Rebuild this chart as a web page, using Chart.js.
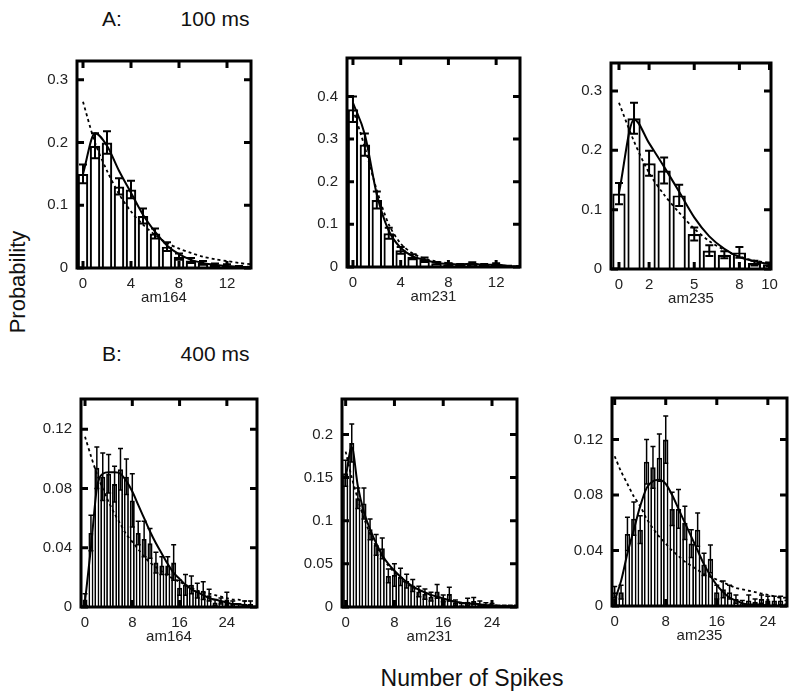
<!DOCTYPE html>
<html>
<head>
<meta charset="utf-8">
<script src="https://cdn.jsdelivr.net/npm/chart.js@4.4.1/dist/chart.umd.min.js"></script>
<style>
  body { margin: 0; background: #fff; width: 793px; height: 697px; position: relative; overflow: hidden;
         font-family: "Liberation Sans", Arial, sans-serif; color: #111; }
  canvas { position: absolute; }
  .lbl { position: absolute; white-space: nowrap; transform: translate(-50%, -50%); }
</style>
</head>
<body>
<div class="lbl" style="left:112px;top:19px;font-size:21px">A:</div>
<div class="lbl" style="left:215px;top:19px;font-size:21px">100 ms</div>
<div class="lbl" style="left:112px;top:354px;font-size:21px">B:</div>
<div class="lbl" style="left:215px;top:354px;font-size:21px">400 ms</div>
<div class="lbl" style="left:18px;top:282px;font-size:22px;transform:translate(-50%,-50%) rotate(-90deg)">Probability</div>
<div class="lbl" style="left:472px;top:678px;font-size:23px">Number of Spikes</div>

<canvas id="pA1"></canvas>
<canvas id="pA2"></canvas>
<canvas id="pA3"></canvas>
<canvas id="pB1"></canvas>
<canvas id="pB2"></canvas>
<canvas id="pB3"></canvas>

<script>
// ---- data: 100 ms window ----
const am164Bins100 = [0, 1, 2, 3, 4, 5, 6, 7, 8, 9, 10, 11, 12, 13, 14];
const am164Prob100 = [0.150, 0.195, 0.200, 0.130, 0.125, 0.083, 0.055, 0.034, 0.018, 0.012, 0.008, 0.005, 0.004, 0.002, 0.001];
const am164Err100  = [0.015, 0.020, 0.018, 0.013, 0.014, 0.012, 0.008, 0.007, 0.005, 0.004, 0.003, 0.002, 0.002, 0.001, 0.001];
const am164Fit100  = [0.150, 0.215, 0.195, 0.155, 0.120, 0.085, 0.058, 0.036, 0.022, 0.013, 0.008, 0.005, 0.003, 0.002, 0.001];
const am164Exp100  = [0.265, 0.200, 0.155, 0.118, 0.090, 0.069, 0.053, 0.040, 0.031, 0.024, 0.018, 0.014, 0.011, 0.008, 0.006];

const am231Bins100 = [0, 1, 2, 3, 4, 5, 6, 7, 8, 9, 10, 11, 12, 13, 14];
const am231Prob100 = [0.370, 0.287, 0.157, 0.079, 0.039, 0.024, 0.017, 0.009, 0.006, 0.005, 0.008, 0.005, 0.006, 0.002, 0.001];
const am231Err100  = [0.030, 0.026, 0.020, 0.013, 0.008, 0.006, 0.005, 0.003, 0.003, 0.002, 0.003, 0.002, 0.003, 0.001, 0.001];
const am231Fit100  = [0.385, 0.310, 0.170, 0.085, 0.045, 0.025, 0.017, 0.010, 0.007, 0.006, 0.008, 0.005, 0.006, 0.002, 0.001];
const am231Exp100  = [0.370, 0.280, 0.180, 0.100, 0.055, 0.032, 0.020, 0.013, 0.009, 0.006, 0.004, 0.003, 0.002, 0.001, 0.001];

const am235Bins100 = [0, 1, 2, 3, 4, 5, 6, 7, 8, 9, 10];
const am235Prob100 = [0.127, 0.254, 0.178, 0.166, 0.124, 0.059, 0.031, 0.024, 0.028, 0.010, 0.008];
const am235Err100  = [0.018, 0.026, 0.021, 0.022, 0.018, 0.011, 0.009, 0.006, 0.009, 0.004, 0.003];
const am235Fit100  = [0.128, 0.252, 0.212, 0.172, 0.130, 0.087, 0.055, 0.034, 0.020, 0.013, 0.008];
const am235Exp100  = [0.280, 0.215, 0.162, 0.125, 0.095, 0.068, 0.047, 0.032, 0.021, 0.014, 0.010];

// ---- data: 400 ms window ----
const am164Bins400 = [0, 1, 2, 3, 4, 5, 6, 7, 8, 9, 10, 11, 12, 13, 14, 15, 16, 17, 18, 19, 20, 21, 22, 23, 24, 25, 26, 27, 28];
const am164Prob400 = [0.005, 0.050, 0.094, 0.088, 0.090, 0.083, 0.093, 0.088, 0.072, 0.050, 0.046, 0.043, 0.030, 0.028, 0.028,
                      0.030, 0.013, 0.015, 0.015, 0.011, 0.011, 0.008, 0.003, 0.004, 0.005, 0.002, 0.001, 0.002, 0.002];
const am164Err400  = [0.004, 0.012, 0.014, 0.016, 0.013, 0.012, 0.014, 0.012, 0.018, 0.008, 0.012, 0.010, 0.007, 0.006, 0.006,
                      0.012, 0.005, 0.007, 0.006, 0.005, 0.006, 0.004, 0.002, 0.002, 0.005, 0.002, 0.001, 0.002, 0.002];
const am164Fit400  = [0.004, 0.040, 0.080, 0.090, 0.091, 0.091, 0.090, 0.085, 0.078, 0.069, 0.060, 0.051, 0.043, 0.036, 0.029,
                      0.023, 0.019, 0.015, 0.012, 0.010, 0.008, 0.006, 0.005, 0.004, 0.003, 0.002, 0.002, 0.001, 0.001];
const am164Exp400  = [0.115, 0.102, 0.090, 0.080, 0.071, 0.063, 0.056, 0.049, 0.044, 0.039, 0.034, 0.030, 0.027, 0.024, 0.021,
                      0.019, 0.017, 0.015, 0.013, 0.011, 0.010, 0.009, 0.008, 0.007, 0.006, 0.005, 0.005, 0.004, 0.004];

const am231Bins400 = [0, 1, 2, 3, 4, 5, 6, 7, 8, 9, 10, 11, 12, 13, 14, 15, 16, 17, 18, 19, 20, 21, 22, 23, 24, 25, 26, 27, 28];
const am231Prob400 = [0.155, 0.190, 0.126, 0.120, 0.090, 0.072, 0.068, 0.036, 0.037, 0.035, 0.030, 0.025, 0.018, 0.015, 0.012,
                      0.018, 0.010, 0.015, 0.005, 0.002, 0.006, 0.007, 0.004, 0.003, 0.002, 0.001, 0.001, 0.001, 0.001];
const am231Err400  = [0.015, 0.022, 0.012, 0.018, 0.012, 0.012, 0.012, 0.008, 0.013, 0.010, 0.008, 0.007, 0.006, 0.006, 0.005,
                      0.008, 0.004, 0.008, 0.003, 0.002, 0.004, 0.004, 0.003, 0.002, 0.002, 0.001, 0.001, 0.001, 0.001];
const am231Fit400  = [0.150, 0.185, 0.140, 0.110, 0.090, 0.074, 0.060, 0.050, 0.042, 0.035, 0.029, 0.024, 0.020, 0.017, 0.014,
                      0.012, 0.010, 0.008, 0.006, 0.005, 0.004, 0.004, 0.003, 0.002, 0.002, 0.001, 0.001, 0.001, 0.000];
const am231Exp400  = [0.180, 0.150, 0.125, 0.103, 0.085, 0.070, 0.058, 0.048, 0.040, 0.033, 0.027, 0.023, 0.019, 0.016, 0.013,
                      0.011, 0.009, 0.007, 0.006, 0.005, 0.004, 0.0035, 0.003, 0.0025, 0.002, 0.0015, 0.001, 0.001, 0.001];

const am235Bins400 = [0, 1, 2, 3, 4, 5, 6, 7, 8, 9, 10, 11, 12, 13, 14, 15, 16, 17, 18, 19, 20, 21, 22, 23, 24, 25, 26, 27];
const am235Prob400 = [0.010, 0.010, 0.052, 0.063, 0.055, 0.104, 0.100, 0.107, 0.120, 0.070, 0.070, 0.060, 0.045, 0.055,
                      0.030, 0.034, 0.010, 0.012, 0.010, 0.005, 0.002, 0.004, 0.003, 0.005, 0.004, 0.004, 0.004, 0.002];
const am235Err400  = [0.004, 0.005, 0.012, 0.012, 0.010, 0.016, 0.015, 0.017, 0.017, 0.012, 0.014, 0.012, 0.010, 0.012,
                      0.008, 0.010, 0.005, 0.006, 0.005, 0.003, 0.002, 0.004, 0.002, 0.003, 0.003, 0.003, 0.003, 0.002];
const am235Fit400  = [0.004, 0.018, 0.038, 0.055, 0.072, 0.085, 0.090, 0.091, 0.088, 0.080, 0.070, 0.060, 0.050, 0.040,
                      0.030, 0.022, 0.015, 0.010, 0.006, 0.004, 0.002, 0.001, 0.001, 0.001, 0.000, 0.000, 0.000, 0.000];
const am235Exp400  = [0.108, 0.097, 0.088, 0.079, 0.072, 0.063, 0.056, 0.050, 0.045, 0.040, 0.036, 0.032, 0.029, 0.026,
                      0.023, 0.021, 0.019, 0.017, 0.015, 0.013, 0.012, 0.011, 0.010, 0.009, 0.008, 0.007, 0.006, 0.006];

// tick labels
const xTicks100 = [0, 4, 8, 12];
const xTicks235 = [0, 2, 5, 8, 10];
const xTicks400 = [0, 8, 16, 24];
const yTicksA1 = [0, 0.1, 0.2, 0.3];
const yTicksA2 = [0, 0.1, 0.2, 0.3, 0.4];
const yTicksA3 = [0, 0.1, 0.2, 0.3];
const yTicksB1 = [0, 0.04, 0.08, 0.12];
const yTicksB2 = [0, 0.05, 0.1, 0.15, 0.2];
const yTicksB3 = [0, 0.04, 0.08, 0.12];

const FONT_SIZE = 15;
const YW = 50, XH = 45, PR = 20;

// error bars + boxed frame with inward ticks on all sides
const framePlugin = {
  id: 'frame',
  afterDatasetsDraw(chart) {
    const { ctx, chartArea: a, scales: { y } } = chart;
    const meta = chart.getDatasetMeta(0);
    const err = chart.data.datasets[0].err;
    const opts = chart.options.plugins.frame;
    ctx.save();
    ctx.beginPath();
    ctx.rect(a.left, a.top - 20, a.right - a.left, a.bottom - a.top + 20);
    ctx.clip();
    ctx.strokeStyle = '#000';
    ctx.lineWidth = opts.lw;
    ctx.beginPath();
    meta.data.forEach((bar, i) => {
      const v = chart.data.datasets[0].data[i].y;
      const top = y.getPixelForValue(v + err[i]);
      const bot = y.getPixelForValue(Math.max(0, v - err[i]));
      ctx.moveTo(bar.x, top); ctx.lineTo(bar.x, bot);
      ctx.moveTo(bar.x - opts.cap, top); ctx.lineTo(bar.x + opts.cap, top);
      ctx.moveTo(bar.x - opts.cap, bot); ctx.lineTo(bar.x + opts.cap, bot);
    });
    ctx.stroke();
    ctx.restore();
  },
  afterDraw(chart) {
    const { ctx, chartArea: a, scales: { x, y } } = chart;
    ctx.save();
    ctx.strokeStyle = '#000';
    ctx.lineWidth = 3;
    ctx.strokeRect(a.left, a.top, a.right - a.left, a.bottom - a.top);
    ctx.beginPath();
    x.ticks.forEach(t => {
      const px = x.getPixelForValue(t.value);
      ctx.moveTo(px, a.bottom); ctx.lineTo(px, a.bottom - 7);
      ctx.moveTo(px, a.top); ctx.lineTo(px, a.top + 7);
    });
    y.ticks.forEach(t => {
      const py = y.getPixelForValue(t.value);
      ctx.moveTo(a.left, py); ctx.lineTo(a.left + 7, py);
      ctx.moveTo(a.right, py); ctx.lineTo(a.right - 7, py);
    });
    ctx.stroke();
    ctx.restore();
  }
};

function makePanel(id, box, xRange, yMax, xTicks, yTicks, title, bins, prob, err, fit, expo, narrow) {
  const cv = document.getElementById(id);
  const pts = arr => bins.map((b, i) => ({ x: b, y: arr[i] }));
  const tickFont = { family: '"Liberation Sans", Arial, sans-serif', size: FONT_SIZE };

  const config = () => ({
    type: 'bar',
    data: {
      datasets: [
        { type: 'bar', data: pts(prob), err: err, backgroundColor: '#fff', borderColor: '#000',
          borderWidth: narrow ? 1.8 : 2.2, barPercentage: narrow ? 0.85 : 0.88, categoryPercentage: 1, order: 3 },
        { type: 'line', data: pts(fit), borderColor: '#000', borderWidth: 2, pointRadius: 0,
          cubicInterpolationMode: 'monotone', order: 1 },
        { type: 'line', data: pts(expo), borderColor: '#000', borderWidth: 1.8, borderDash: [3, 3],
          pointRadius: 0, tension: 0.3, order: 2 }
      ]
    },
    options: {
      responsive: false,
      maintainAspectRatio: false,
      devicePixelRatio: 1,
      animation: false,
      layout: { padding: { top: 0, right: PR, left: 0, bottom: 0 } },
      plugins: { legend: { display: false }, tooltip: { enabled: false },
                 frame: { cap: narrow ? 2.5 : 4, lw: narrow ? 1.5 : 2 } },
      scales: {
        x: {
          type: 'linear', min: xRange[0], max: xRange[1], offset: false,
          grid: { display: false, drawTicks: false }, border: { display: false },
          afterBuildTicks: s => { s.ticks = xTicks.map(v => ({ value: v })); },
          afterFit: s => { s.height = XH; },
          ticks: { font: tickFont, color: '#222', padding: 7, maxRotation: 0, autoSkip: false,
                   callback: v => String(v) },
          title: { display: true, text: title, font: tickFont, color: '#222', padding: { top: 0, bottom: 6 } }
        },
        y: {
          min: 0, max: yMax,
          grid: { display: false, drawTicks: false }, border: { display: false },
          afterBuildTicks: s => { s.ticks = yTicks.map(v => ({ value: v })); },
          afterFit: s => { s.width = YW; },
          ticks: { font: tickFont, color: '#222', padding: 9, autoSkip: false,
                   callback: v => v === 0 ? '0' : String(+v.toFixed(3)) }
        }
      }
    },
    plugins: [framePlugin]
  });

  // first pass finds how far down the plot area starts, second pass sizes the canvas to fit the box
  cv.width = box.r - box.l + YW + PR;
  cv.height = box.b - box.t + 20 + XH;
  let chart = new Chart(cv, config());
  const off = chart.chartArea.top;
  chart.destroy();
  cv.width = box.r - box.l + YW + PR;
  cv.height = Math.round(box.b - box.t + off + XH);
  chart = new Chart(cv, config());
  cv.style.left = (box.l - chart.chartArea.left) + 'px';
  cv.style.top = (box.t - chart.chartArea.top) + 'px';
}

makePanel('pA1', { l: 77, t: 61, r: 251, b: 268 }, [-0.5, 14], 0.33, xTicks100, yTicksA1, 'am164',
  am164Bins100, am164Prob100, am164Err100, am164Fit100, am164Exp100, false);
makePanel('pA2', { l: 347, t: 58, r: 520, b: 267 }, [-0.5, 14], 0.49, xTicks100, yTicksA2, 'am231',
  am231Bins100, am231Prob100, am231Err100, am231Fit100, am231Exp100, false);
makePanel('pA3', { l: 611, t: 63, r: 771, b: 269 }, [-0.53, 10.1], 0.347, xTicks235, yTicksA3, 'am235',
  am235Bins100, am235Prob100, am235Err100, am235Fit100, am235Exp100, false);
makePanel('pB1', { l: 81, t: 399, r: 257, b: 607 }, [-0.68, 29.1], 0.1405, xTicks400, yTicksB1, 'am164',
  am164Bins400, am164Prob400, am164Err400, am164Fit400, am164Exp400, true);
makePanel('pB2', { l: 342, t: 399, r: 517, b: 607 }, [-0.6, 28.1], 0.241, xTicks400, yTicksB2, 'am231',
  am231Bins400, am231Prob400, am231Err400, am231Fit400, am231Exp400, true);
makePanel('pB3', { l: 612, t: 398, r: 787, b: 606 }, [-0.42, 27.0], 0.15, xTicks400, yTicksB3, 'am235',
  am235Bins400, am235Prob400, am235Err400, am235Fit400, am235Exp400, true);
</script>
</body>
</html>
